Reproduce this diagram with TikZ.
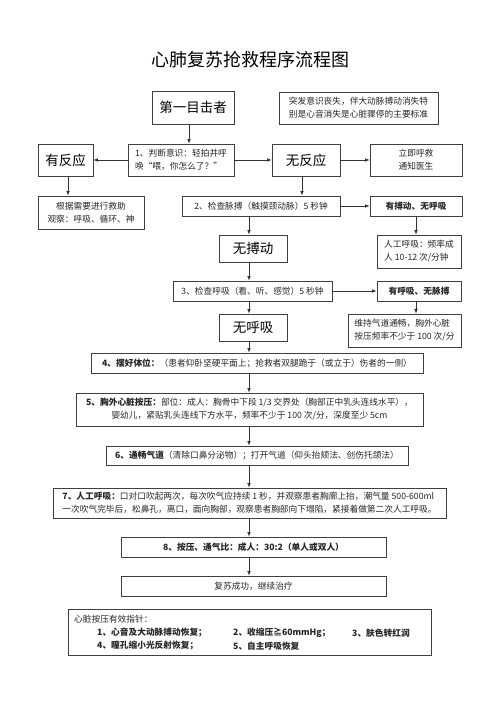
\documentclass[tikz,border=0pt]{standalone}
\usepackage{fontspec}
\setmainfont{Noto Sans CJK SC}
\usetikzlibrary{arrows.meta}
\tikzset{
 bx/.style={draw=black!75, line width=0.7pt, inner sep=0pt, align=center, font=\fontsize{8.7}{13}\selectfont, text=black!85},
 big/.style={bx, font=\fontsize{13.5}{16}\selectfont, text=black},
 arr/.style={draw=black!80, line width=0.7pt, -{Latex[length=4.5pt,width=3.6pt]}},
 txt/.style={inner sep=0pt, anchor=west, font=\fontsize{8.7}{13}\selectfont, text=black!85},
}
\begin{document}
\begin{tikzpicture}[x=1pt,y=-1pt]
\useasboundingbox[fill=white] (0,0) rectangle (500,708);
\coordinate (spine) at (249,0);
\node[inner sep=0pt, font=\fontsize{18}{20}\selectfont] (title) at (250,60) {心肺复苏抢救程序流程图};

\node[big, minimum width=82pt, minimum height=33pt] (witness) at (193,107.5) {第一目击者};
\node[bx, align=left, minimum width=159pt, minimum height=32pt] (note) at (358.5,108) {突发意识丧失，伴大动脉搏动消失特\\别是心音消失是心脏骤停的主要标准};

\node[big, minimum width=55pt, minimum height=32pt] (yes) at (65.5,160) {有反应};
\node[bx, align=left, minimum width=106pt, minimum height=32pt] (s1) at (181,160) {1、判断意识：轻拍并呼\\唤“喂，你怎么了？”};
\node[big, minimum width=68pt, minimum height=32pt] (no) at (306,160) {无反应};
\node[bx, minimum width=92pt, minimum height=32pt] (call) at (416,160) {立即呼救\\通知医生};

\node[bx, minimum width=106pt, minimum height=33pt] (help) at (91,212.5) {根据需要进行救助\\观察：呼吸、循环、神};
\node[bx, minimum width=158pt, minimum height=20pt] (s2) at (261,206) {2、检查脉搏（触摸颈动脉）5 秒钟};
\node[bx, minimum width=92pt, minimum height=20pt] (pulse) at (416,206) {\textbf{有搏动、无呼吸}};

\node[big, minimum width=68pt, minimum height=27pt] (nopulse) at (253,248.5) {无搏动};
\node[bx, align=left, minimum width=84pt, minimum height=33pt] (rb) at (419,251.5) {人工呼吸：频率成\\人 10-12 次/分钟};

\node[bx, minimum width=159pt, minimum height=20pt] (s3) at (252.5,291) {3、检查呼吸（看、听、感觉）5 秒钟};
\node[bx, minimum width=84pt, minimum height=20pt] (breath) at (419,291) {\textbf{有呼吸、无脉搏}};

\node[big, minimum width=68pt, minimum height=27pt] (nobreath) at (253,327.5) {无呼吸};
\node[bx, align=left, minimum width=113pt, minimum height=33pt] (keep) at (404.5,330.5) {维持气道通畅，胸外心脏\\按压频率不少于 100 次/分};

\node[bx, minimum width=332pt, minimum height=20pt] (s4) at (257,363) {\textbf{4、摆好体位：}（患者仰卧坚硬平面上；抢救者双腿跪于（或立于）伤者的一侧）};
\node[bx, minimum width=347pt, minimum height=33pt] (s5) at (249.5,409.5) {\textbf{5、胸外心脏按压：}部位：成人：胸骨中下段 1/3 交界处（胸部正中乳头连线水平），\\婴幼儿，紧贴乳头连线下方水平，频率不少于 100 次/分，深度至少 5cm};
\node[bx, minimum width=302pt, minimum height=19pt] (s6) at (257,455.5) {\textbf{6、通畅气道}（清除口鼻分泌物）；打开气道（仰头抬颏法、创伤托颌法）};
\node[bx, align=left, minimum width=393pt, minimum height=30pt] (s7) at (249.5,503) {\textbf{7、人工呼吸：}口对口吹起两次，每次吹气应持续 1 秒，并观察患者胸廓上抬，潮气量 500-600ml\\一次吹气完毕后，松鼻孔，离口，面向胸部，观察患者胸部向下塌陷，紧接着做第二次人工呼吸。};
\node[bx, minimum width=265pt, minimum height=20pt] (s8) at (253.5,547) {\textbf{8、按压、通气比：成人：30:2（单人或双人）}};
\node[bx, minimum width=265pt, minimum height=20pt] (s9) at (253.5,586) {复苏成功，继续治疗};
\node[bx, minimum width=363pt, minimum height=46pt] (s10) at (249.5,632) {};

\node[txt] (t0) at (74,619) {心脏按压有效指针：};
\node[txt] (t1) at (97,633) {\textbf{1、心音及大动脉搏动恢复；}};
\node[txt] (t2) at (233,633) {\textbf{2、收缩压≧60mmHg；}};
\node[txt] (t3) at (352,633) {\textbf{3、肤色转红润}};
\node[txt] (t4) at (97,646) {\textbf{4、瞳孔缩小光反射恢复；}};
\node[txt] (t5) at (233,646) {\textbf{5、自主呼吸恢复}};

\draw[arr] (witness.south -| 189,0) -- (s1.north -| 189,0);
\draw[arr] (s1.west) -- (yes.east);
\draw[arr] (s1.east) -- (no.west);
\draw[arr] (no.east) -- (call.west);
\draw[arr] (yes.south -| 68,0) -- (help.north -| 68,0);
\draw[arr] (no.south -| 302,0) -- (s2.north -| 302,0);
\draw[arr] (s2.east) -- (pulse.west);
\draw[arr] (pulse.south) -- (pulse.south |- rb.north);
\draw[arr] (s3.east) -- (breath.west);
\draw[arr] (breath.south -| pulse.south) -- (keep.north -| pulse.south);
\draw[arr] (s2.south -| spine) -- (nopulse.north -| spine);
\draw[arr] (nopulse.south -| spine) -- (s3.north -| spine);
\draw[arr] (s3.south -| spine) -- (nobreath.north -| spine);
\draw[arr] (nobreath.south -| spine) -- (s4.north -| spine);
\draw[arr] (s4.south -| spine) -- (s5.north -| spine);
\draw[arr] (s5.south -| spine) -- (s6.north -| spine);
\draw[arr] (s6.south -| spine) -- (s7.north -| spine);
\draw[arr] (s7.south -| spine) -- (s8.north -| spine);
\draw[arr] (s8.south -| spine) -- (s9.north -| spine);
\end{tikzpicture}
\end{document}
